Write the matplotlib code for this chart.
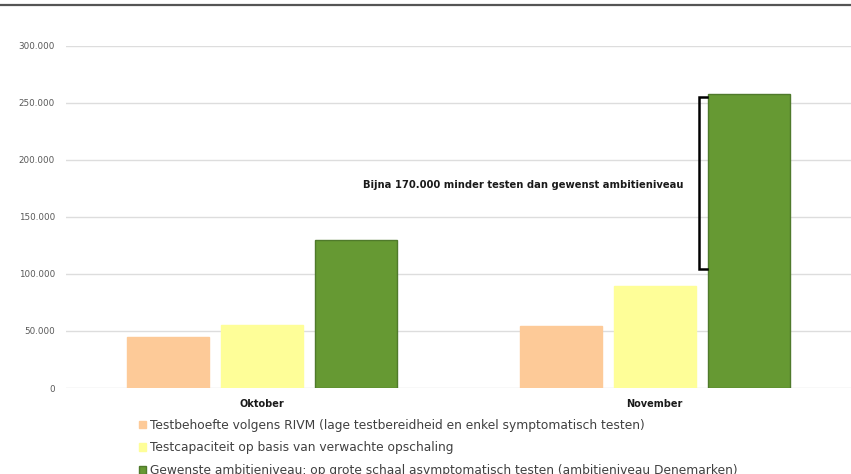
import numpy as np
import matplotlib
matplotlib.use("Agg")
import matplotlib.pyplot as plt
from matplotlib.patches import Patch
from matplotlib.lines import Line2D

months = ["Oktober", "November"]
series_labels = [
    "Testbehoefte volgens RIVM (lage testbereidheid en enkel symptomatisch testen)",
    "Testcapaciteit op basis van verwachte opschaling",
    "Gewenste ambitieniveau: op grote schaal asymptomatisch testen (ambitieniveau Denemarken)",
]
testbehoefte = [45000, 54000]
testcapaciteit = [55000, 89000]
ambitie = [130000, 258000]
y_ticks = [0, 50000, 100000, 150000, 200000, 250000, 300000]
y_tick_labels = ["0", "50.000", "100.000", "150.000", "200.000", "250.000", "300.000"]
note = "Bijna 170.000 minder testen dan gewenst ambitieniveau"

colors = ["#fdca98", "#fefe98", "#669933"]
edges = ["#fdca98", "#fefe98", "#4f7a2b"]


def main():
    fig = plt.figure(figsize=(8.51, 4.74), dpi=100)
    ax = fig.add_axes([66 / 851, 1 - 388 / 474, 1 - 66 / 851, (388 - 45.7) / 474])

    x = np.arange(len(months))
    width = 0.209
    offset = 0.24
    data = [testbehoefte, testcapaciteit, ambitie]
    for i, vals in enumerate(data):
        ax.bar(x + (i - 1) * offset, vals, width, color=colors[i],
               edgecolor=edges[i], linewidth=1, zorder=3)

    ax.set_xlim(-0.5, 1.5)
    ax.set_ylim(0, 300000)
    ax.set_yticks(y_ticks)
    ax.set_yticklabels(y_tick_labels, fontsize=6.3, color="#595959")
    ax.set_xticks(x)
    ax.set_xticklabels(months, fontsize=7, fontweight="bold", color="#1a1a1a")
    ax.tick_params(axis="both", length=0)
    ax.tick_params(axis="y", pad=8)
    ax.tick_params(axis="x", pad=8)
    ax.grid(axis="y", color="#dddddd", linewidth=1, zorder=0)
    for s in ax.spines.values():
        s.set_visible(False)

    # bracket for the gap in november
    bx, bt = 1.112, 1.132
    ax.plot([bt, bx, bx, bt], [255000, 255000, 104500, 104500],
            color="black", linewidth=1.8, zorder=4, solid_joinstyle="miter")
    ax.text(0.665, 178000, note, ha="center", va="center", fontsize=7.2,
            fontweight="bold", color="#1a1a1a")

    handles = [Patch(facecolor=c, edgecolor=e) for c, e in zip(colors, edges)]
    fig.legend(handles, series_labels, loc="upper left",
               bbox_to_anchor=(134 / 851, 1 - 414 / 474), frameon=False,
               fontsize=8.8, handlelength=0.6, handleheight=0.6,
               handletextpad=0.3, labelspacing=0.78, borderaxespad=0,
               labelcolor="#404040")

    # top rule left over from the page title
    fig.add_artist(Line2D([0, 1], [1 - 5 / 474, 1 - 5 / 474], color="#555555",
                          linewidth=1.6))

    fig.savefig("out.png", dpi=100)


if __name__ == "__main__":
    main()
